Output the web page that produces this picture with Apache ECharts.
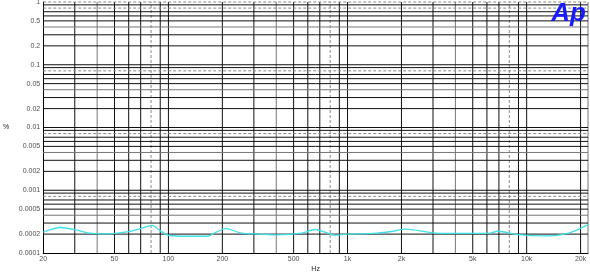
<!DOCTYPE html>
<html>
<head>
<meta charset="utf-8">
<script src="https://cdn.jsdelivr.net/npm/echarts@6/dist/echarts.min.js"></script>
<style>html,body{margin:0;padding:0;background:#fff}#c{width:590px;height:278px}</style>
</head>
<body>
<div id="c"></div>
<script>
// Data
var freqHz = [20, 25, 30, 36, 45, 60, 70, 81, 90, 101, 130, 165, 185, 209, 256, 320, 405, 555, 660, 750, 845, 1000, 1400, 1750, 2100, 3100, 4500, 6100, 6900, 9000, 12500, 17200, 22000];
var thdPct = [0.000215, 0.000255, 0.000235, 0.000207, 0.000201, 0.000219, 0.000245, 0.000275, 0.000225, 0.000190, 0.000185, 0.000185, 0.000215, 0.000245, 0.000207, 0.000200, 0.000194, 0.000207, 0.000237, 0.000215, 0.000192, 0.000200, 0.000205, 0.000220, 0.000240, 0.000208, 0.000205, 0.000205, 0.000222, 0.000196, 0.000187, 0.000208, 0.000283];
var xTickVals = [20, 50, 100, 200, 500, 1000, 2000, 5000, 10000, 20000];
var xTickText = ['20', '50', '100', '200', '500', '1k', '2k', '5k', '10k', '20k'];
var yTickVals = [0.0001, 0.0002, 0.0005, 0.001, 0.002, 0.005, 0.01, 0.02, 0.05, 0.1, 0.2, 0.5, 1];
var yTickText = ['0.0001', '0.0002', '0.0005', '0.001', '0.002', '0.005', '0.01', '0.02', '0.05', '0.1', '0.2', '0.5', '1'];
var xMin = 20, xMax = 22000, yMin = 0.0001, yMax = 1;

// grid line positions (1..9 x decade)
var xGrid = [], yGrid = [];
[10, 100, 1000, 10000].forEach(function (d) {
  for (var n = 1; n <= 9; n++) { var v = n * d; if (v > xMin && v < xMax) xGrid.push({v: v, n: n}); }
});
[0.0001, 0.001, 0.01, 0.1].forEach(function (d) {
  for (var n = 1; n <= 9; n++) { var v = +(n * d).toPrecision(3); if (v > yMin && v < yMax) yGrid.push({v: v, n: n}); }
});
xGrid.push({v: xMax, n: 4});
yGrid.push({v: yMax, n: 8});
function styleFor(n) {
  if (n === 8) return {color: '#888', width: 1, type: [3, 2]};
  if (n === 4) return {color: '#777', width: 1, type: 'solid'};
  return {color: '#111', width: 1, type: 'solid'};
}
var gridSeries = [];
xGrid.forEach(function (g) {
  gridSeries.push({type: 'line', silent: true, symbol: 'none', z: 1, clip: false,
    data: [[g.v, yMin], [g.v, yMax]], lineStyle: styleFor(g.n)});
});
yGrid.forEach(function (g) {
  gridSeries.push({type: 'line', silent: true, symbol: 'none', z: 1, clip: false,
    data: [[xMin, g.v], [xMax, g.v]], lineStyle: styleFor(g.n)});
});

var font = 'Liberation Sans, Arial, sans-serif';
var chart = echarts.init(document.getElementById('c'), null, {renderer: 'canvas'});
chart.setOption({
  animation: false,
  backgroundColor: '#fff',
  grid: {left: 40, right: 2, top: 2, bottom: 22, containLabel: false},
  xAxis: {
    type: 'log', logBase: 10, min: xMin, max: xMax,
    axisLine: {show: true, lineStyle: {color: '#000', width: 1}},
    axisTick: {show: false}, axisLabel: {show: false}, splitLine: {show: false}, minorSplitLine: {show: false},
    name: 'Hz', nameLocation: 'middle', nameGap: 13,
    nameTextStyle: {fontSize: 7, color: '#222', fontFamily: font}
  },
  yAxis: {
    type: 'log', logBase: 10, min: yMin, max: yMax,
    axisLine: {show: true, onZero: false, lineStyle: {color: '#000', width: 1}},
    axisTick: {show: false}, axisLabel: {show: false}, splitLine: {show: false},
    name: '%', nameLocation: 'middle', nameGap: 34, nameRotate: 0,
    nameTextStyle: {fontSize: 7, color: '#222', fontFamily: font}
  },
  graphic: [{
    type: 'text', right: 4, top: 1, z: 100,
    style: {text: 'Ap', font: 'italic bold 26px ' + font, fill: '#1a1aff'}
  }],
  series: gridSeries.concat([
    {
      type: 'line', data: freqHz.map(function (f, i) { return [f, thdPct[i]]; }),
      smooth: 0.3, showSymbol: false, symbol: 'none', z: 10, clip: true,
      lineStyle: {color: '#3fe0e6', width: 1.3}
    },
    {
      type: 'scatter', symbolSize: 0, silent: true, clip: false, z: 20,
      data: yTickVals.map(function (v, i) { return {value: [xMin, v], label: {formatter: yTickText[i]}}; }),
      label: {show: true, position: 'left', distance: 3, fontSize: 7, color: '#222', fontFamily: font}
    },
    {
      type: 'scatter', symbolSize: 0, silent: true, clip: false, z: 20,
      data: xTickVals.map(function (v, i) { return {value: [v, yMin], label: {formatter: xTickText[i]}}; }),
      label: {show: true, position: 'bottom', distance: 3, fontSize: 7, color: '#222', fontFamily: font}
    }
  ])
});
</script>
</body>
</html>
